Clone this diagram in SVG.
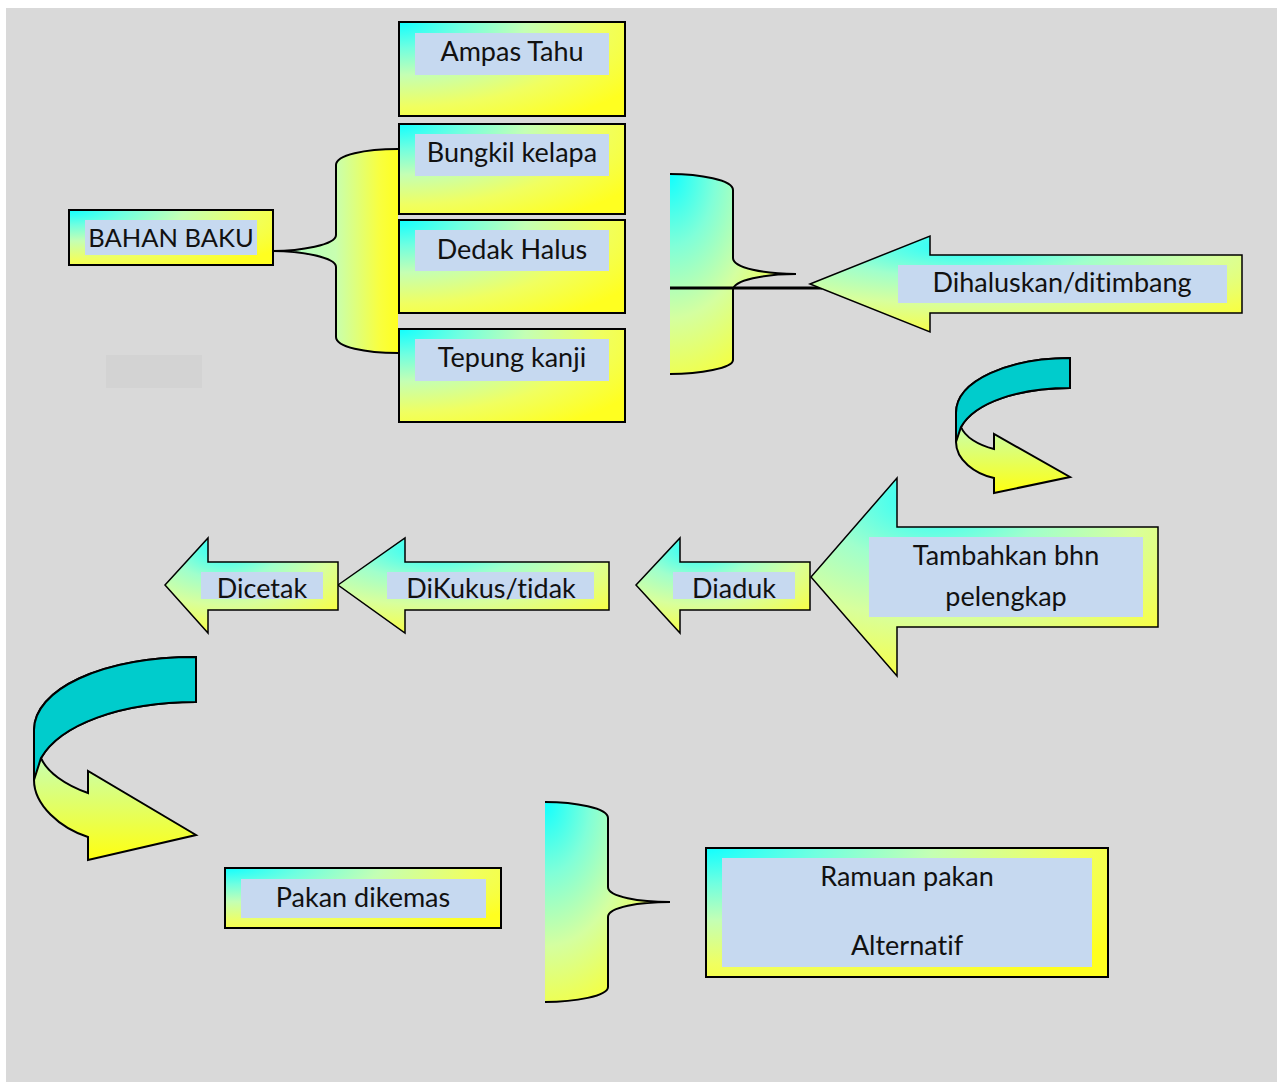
<svg xmlns="http://www.w3.org/2000/svg" width="1277" height="1082" viewBox="0 0 1277 1082">
<defs>
<radialGradient id="gBox" cx="0" cy="0" r="1.25" fx="0" fy="0">
<stop offset="0" stop-color="#10ffff"/>
<stop offset="0.22" stop-color="#70ffe0"/>
<stop offset="0.45" stop-color="#c4ffb4"/>
<stop offset="0.72" stop-color="#f0ff60"/>
<stop offset="1" stop-color="#ffff20"/>
</radialGradient>
<radialGradient id="gArrow" cx="0.35" cy="0.1" r="1.1" fx="0.35" fy="0.1">
<stop offset="0" stop-color="#20ffff"/>
<stop offset="0.3" stop-color="#a0ffcc"/>
<stop offset="0.55" stop-color="#d8ff9c"/>
<stop offset="0.8" stop-color="#f4ff50"/>
<stop offset="1" stop-color="#ffff20"/>
</radialGradient>
<radialGradient id="gBrace" cx="0" cy="0" r="1.2" fx="0" fy="0">
<stop offset="0" stop-color="#10ffff"/>
<stop offset="0.3" stop-color="#80ffd8"/>
<stop offset="0.6" stop-color="#d4ffa0"/>
<stop offset="1" stop-color="#ffff20"/>
</radialGradient>
<linearGradient id="gBraceL" x1="0" y1="0" x2="1" y2="0">
<stop offset="0" stop-color="#a8ffc8"/>
<stop offset="0.5" stop-color="#c8ffb0"/>
<stop offset="0.85" stop-color="#f8ff40"/>
<stop offset="1" stop-color="#ffff20"/>
</linearGradient>
<linearGradient id="gCurve" x1="0" y1="0" x2="0" y2="1">
<stop offset="0" stop-color="#a0ffd0"/>
<stop offset="0.5" stop-color="#c8ffb0"/>
<stop offset="1" stop-color="#ffff10"/>
</linearGradient>
</defs>
<style>
.box{fill:url(#gBox);stroke:#000;stroke-width:2}
.arrow{fill:url(#gArrow);stroke:#000;stroke-width:1.5;stroke-linejoin:miter}
.lbl{fill:#c6d9f0}
.t{font-family:Lato,"Open Sans",sans-serif;font-size:27px;fill:#111;text-anchor:middle;font-variant-ligatures:none;font-feature-settings:"liga" 0}
.edge{fill:none;stroke:#000;stroke-width:2}
.teal{fill:#00cccc;stroke:#000;stroke-width:2}
.curve{fill:url(#gCurve);stroke:#000;stroke-width:2;stroke-linejoin:miter}
</style>
<rect x="0" y="0" width="1277" height="1082" fill="#ffffff"/>
<rect x="6" y="8" width="1271" height="1074" fill="#d9d9d9"/>
<rect x="106" y="355" width="96" height="33" fill="#d3d3d3"/>

<g id="connectors">
<g id="brace-left">
<path d="M398,149 C365,149 336,155 336,165 L336,235 C336,245 300,251 273,251 C300,251 336,257 336,267 L336,337 C336,347 365,353 398,353 Z" fill="url(#gBraceL)"/>
<path class="edge" d="M398,149 C365,149 336,155 336,165 L336,235 C336,245 300,251 273,251 C300,251 336,257 336,267 L336,337 C336,347 365,353 398,353"/>
</g>
<g id="brace-mid">
<path d="M670,174 C700,174 733,180 733,190 L733,258 C733,268 765,274 796,274 C765,274 733,280 733,290 L733,360 C733,368 700,374 670,374 Z" fill="url(#gBrace)"/>
<path class="edge" d="M670,174 C700,174 733,180 733,190 L733,258 C733,268 765,274 796,274 C765,274 733,280 733,290 L733,360 C733,368 700,374 670,374"/>
<line x1="670" y1="288" x2="822" y2="288" stroke="#000" stroke-width="3"/>
</g>
<g id="brace-bottom">
<path d="M545,802 C575,802 608,808 608,818 L608,887 C608,897 640,902 670,902 C640,902 608,907 608,917 L608,987 C608,996 575,1002 545,1002 Z" fill="url(#gBrace)"/>
<path class="edge" d="M545,802 C575,802 608,808 608,818 L608,887 C608,897 640,902 670,902 C640,902 608,907 608,917 L608,987 C608,996 575,1002 545,1002"/>
</g>
<g id="curve-arrow-1">
<path class="curve" d="M1070,358 C1010,358 956,380 956,413 L956,442 C956,460 975,474 994,478 L994,493 L1070,477 L994,434 L994,449 C978,445 965,437 961,427 C975,402 1020,388 1070,388 Z"/>
<path class="teal" d="M1070,358 C1010,358 956,380 956,413 L956,442 L961,427 C975,402 1020,388 1070,388 Z"/>
</g>
<g id="curve-arrow-2">
<path class="curve" d="M196,657 C100,657 34,690 34,730 L34,780 C34,805 60,828 88,837 L88,860 L196,835 L88,771 L88,793 C65,785 47,772 41,758 C60,725 120,702 196,702 Z"/>
<path class="teal" d="M196,657 C100,657 34,690 34,730 L34,780 L41,758 C60,725 120,702 196,702 Z"/>
</g>
</g>

<g id="bahan-baku">
<rect class="box" x="69" y="210" width="204" height="55"/>
<rect class="lbl" x="85" y="220" width="172" height="35"/>
<text class="t" x="171" y="247" style="font-size:25.5px">BAHAN BAKU</text>
</g>
<g id="ampas-tahu">
<rect class="box" x="399" y="22" width="226" height="94"/>
<rect class="lbl" x="415" y="33" width="194" height="42"/>
<text class="t" x="512" y="61">Ampas Tahu</text>
</g>
<g id="bungkil-kelapa">
<rect class="box" x="399" y="124" width="226" height="90"/>
<rect class="lbl" x="415" y="134" width="194" height="42"/>
<text class="t" x="512" y="162">Bungkil kelapa</text>
</g>
<g id="dedak-halus">
<rect class="box" x="399" y="220" width="226" height="93"/>
<rect class="lbl" x="415" y="230" width="194" height="41"/>
<text class="t" x="512" y="259">Dedak Halus</text>
</g>
<g id="tepung-kanji">
<rect class="box" x="399" y="329" width="226" height="93"/>
<rect class="lbl" x="415" y="339" width="194" height="42"/>
<text class="t" x="512" y="367">Tepung kanji</text>
</g>
<g id="dihaluskan">
<path class="arrow" d="M810,284 L930,236 L930,255 L1242,255 L1242,313 L930,313 L930,332 Z"/>
<rect class="lbl" x="898" y="265" width="329" height="38"/>
<text class="t" x="1062" y="292">Dihaluskan/ditimbang</text>
</g>
<g id="tambahkan">
<path class="arrow" d="M811,577 L897,478 L897,527 L1158,527 L1158,627 L897,627 L897,676 Z"/>
<rect class="lbl" x="869" y="537" width="274" height="80"/>
<text class="t" x="1006" y="565">Tambahkan bhn</text>
<text class="t" x="1006" y="606">pelengkap</text>
</g>
<g id="diaduk">
<path class="arrow" d="M636,585 L680,538 L680,562 L810,562 L810,610 L680,610 L680,633 Z"/>
<rect class="lbl" x="673" y="572" width="122" height="27"/>
<text class="t" x="734" y="598">Diaduk</text>
</g>
<g id="dikukus">
<path class="arrow" d="M338,585 L405,538 L405,562 L609,562 L609,610 L405,610 L405,633 Z"/>
<rect class="lbl" x="387" y="572" width="207" height="27"/>
<text class="t" x="491" y="598">DiKukus/tidak</text>
</g>
<g id="dicetak">
<path class="arrow" d="M165,585 L208,538 L208,562 L338,562 L338,610 L208,610 L208,633 Z"/>
<rect class="lbl" x="201" y="572" width="122" height="27"/>
<text class="t" x="262" y="598">Dicetak</text>
</g>
<g id="pakan-dikemas">
<rect class="box" x="225" y="868" width="276" height="60"/>
<rect class="lbl" x="241" y="879" width="245" height="39"/>
<text class="t" x="363" y="907">Pakan dikemas</text>
</g>
<g id="ramuan-pakan">
<rect class="box" x="706" y="848" width="402" height="129"/>
<rect class="lbl" x="722" y="858" width="370" height="109"/>
<text class="t" x="907" y="886">Ramuan pakan</text>
<text class="t" x="907" y="955">Alternatif</text>
</g>
</svg>
